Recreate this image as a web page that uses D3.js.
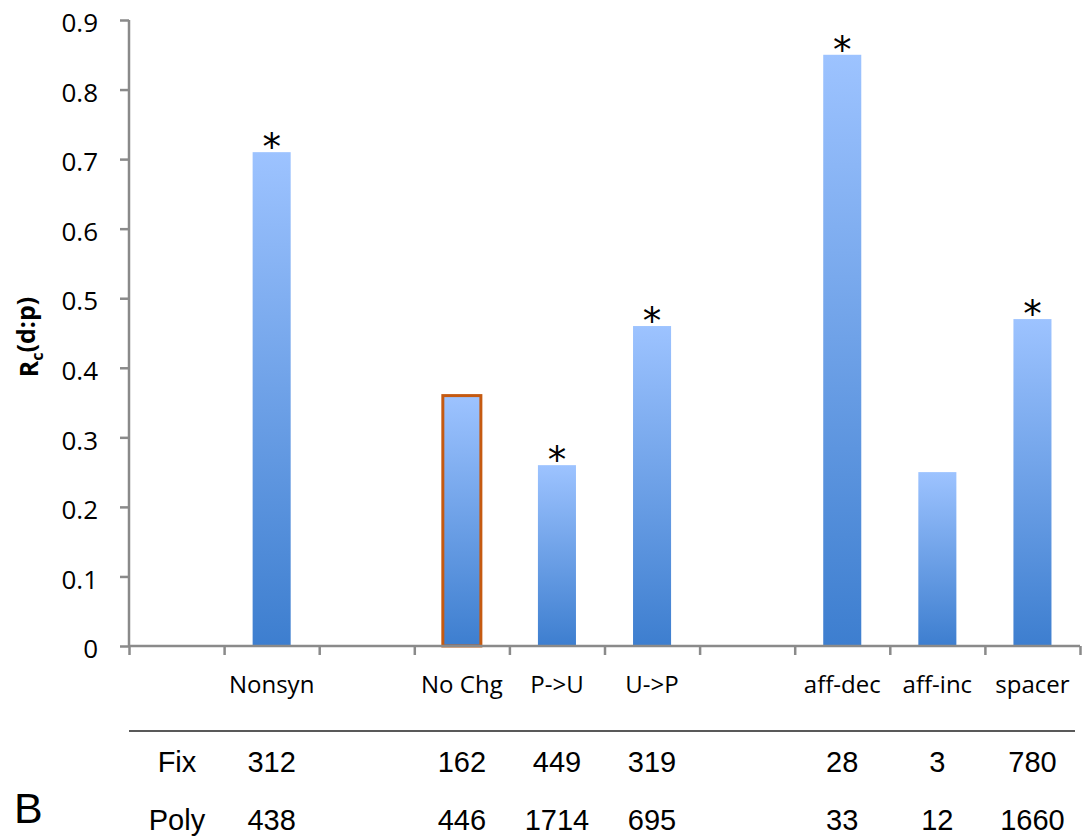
<!DOCTYPE html>
<html>
<head>
<meta charset="utf-8">
<script src="https://cdn.jsdelivr.net/npm/d3@7"></script>
<style>
  body { margin: 0; background: #fff; }
  svg { display: block; }
</style>
</head>
<body>
<div id="chart"></div>
<script>
// data
const categories = ["", "Nonsyn", "", "No Chg", "P->U", "U->P", "", "aff-dec", "aff-inc", "spacer"];
const rcValues   = [null, 0.71, null, 0.36, 0.26, 0.46, null, 0.85, 0.25, 0.47];
const significant = [false, true, false, false, true, true, false, true, false, true];
const fixCounts  = [null, 312, null, 162, 449, 319, null, 28, 3, 780];
const polyCounts = [null, 438, null, 446, 1714, 695, null, 33, 12, 1660];
const highlighted = "No Chg";
const yTicks = [0, 0.1, 0.2, 0.3, 0.4, 0.5, 0.6, 0.7, 0.8, 0.9];

const w = 1082, h = 839;
const padL = 129, padR = 1080, padT = 20, padB = 646;

const svg = d3.select("#chart").append("svg")
  .attr("width", w)
  .attr("height", h);

// gradient used by every bar (light top, dark bottom)
const grad = svg.append("defs").append("linearGradient")
  .attr("id", "barGrad")
  .attr("x1", 0).attr("y1", 0).attr("x2", 0).attr("y2", 1);
grad.append("stop").attr("offset", "0%").attr("stop-color", "#9dc3ff");
grad.append("stop").attr("offset", "100%").attr("stop-color", "#3d7ecf");

// scales
const idx = d3.range(categories.length);
const x = d3.scaleBand()
  .domain(idx)
  .range([padL, padR])
  .paddingInner(0.6)
  .paddingOuter(0.3);

const xEdges = d3.scaleLinear()
  .domain([0, categories.length])
  .range([padL, padR]);

const y = d3.scaleLinear()
  .domain([0, 0.9])
  .range([padB, padT]);

// bars
const rows = idx.filter(i => rcValues[i] != null);

svg.selectAll("rect.bar")
  .data(rows)
  .enter()
  .append("rect")
  .attr("class", "bar")
  .attr("x", i => x(i))
  .attr("y", i => y(rcValues[i]))
  .attr("width", x.bandwidth())
  .attr("height", i => y(0) - y(rcValues[i]))
  .attr("fill", "url(#barGrad)")
  .attr("stroke", i => categories[i] == highlighted ? "#c55a11" : "none")
  .attr("stroke-width", 3);

// significance stars
svg.selectAll("text.star")
  .data(rows.filter(i => significant[i]))
  .enter()
  .append("text")
  .attr("class", "star")
  .attr("x", i => x(i) + x.bandwidth() / 2)
  .attr("y", i => y(rcValues[i]) + 8)
  .attr("text-anchor", "middle")
  .style("font-family", "DejaVu Sans")
  .style("font-size", "37px")
  .text("*");

// y axis
const yAxis = svg.append("g")
  .attr("transform", "translate(" + padL + ",0)")
  .call(d3.axisLeft(y)
    .tickValues(yTicks)
    .tickSize(9)
    .tickPadding(22)
    .tickFormat(d => d === 0 ? "0" : d3.format(".1f")(d)));

yAxis.selectAll("text")
  .attr("dy", "0.45em")
  .style("font-family", "Open Sans")
  .style("font-size", "26px")
  .attr("fill", "#000");

// x axis: tick marks between categories
const xAxis = svg.append("g")
  .attr("transform", "translate(0," + padB + ")")
  .call(d3.axisBottom(xEdges)
    .tickValues(d3.range(categories.length + 1))
    .tickSize(9)
    .tickFormat(""));

// x category labels
const xLabels = svg.append("g")
  .attr("transform", "translate(0," + padB + ")")
  .call(d3.axisBottom(x)
    .tickSize(0)
    .tickPadding(30)
    .tickFormat(i => categories[i]));
xLabels.select(".domain").remove();
xLabels.selectAll("text")
  .style("font-family", "Open Sans")
  .style("font-size", "24px")
  .attr("fill", "#000");

[yAxis, xAxis].forEach(g => {
  g.selectAll(".domain, line")
    .attr("stroke", "#8a8a8a")
    .attr("stroke-width", 2.5);
});
xAxis.select(".domain").attr("d", "M" + padL + ",0H" + padR);
yAxis.select(".domain").attr("d", "M0," + (padB + 1) + "V" + padT);

// y axis title
const yTitle = svg.append("text")
  .attr("transform", "translate(38,337) rotate(-90)")
  .attr("text-anchor", "middle")
  .style("font-family", "Open Sans")
  .style("font-weight", "bold")
  .style("font-size", "25px");
yTitle.append("tspan").text("R");
yTitle.append("tspan").attr("dy", "0.3em").style("font-size", "16px").text("c");
yTitle.append("tspan").attr("dy", "-0.3em").text("(d:p)");

// counts table below the chart
svg.append("line")
  .attr("x1", padL).attr("x2", 1075)
  .attr("y1", 731).attr("y2", 731)
  .attr("stroke", "#222")
  .attr("stroke-width", 1.5);

const tableRows = [
  { name: "Fix", counts: fixCounts, base: 772 },
  { name: "Poly", counts: polyCounts, base: 830 }
];

tableRows.forEach(r => {
  svg.append("text")
    .attr("x", 177)
    .attr("y", r.base)
    .attr("text-anchor", "middle")
    .style("font-family", "Liberation Sans")
    .style("font-size", "29px")
    .text(r.name);

  svg.selectAll(null)
    .data(rows)
    .enter()
    .append("text")
    .attr("x", i => x(i) + x.bandwidth() / 2)
    .attr("y", r.base)
    .attr("text-anchor", "middle")
    .style("font-family", "Liberation Sans")
    .style("font-size", "29px")
    .text(i => r.counts[i]);
});

// panel letter
svg.append("text")
  .attr("x", 14)
  .attr("y", 823)
  .style("font-family", "Liberation Sans")
  .style("font-size", "43px")
  .text("B");
</script>
</body>
</html>
